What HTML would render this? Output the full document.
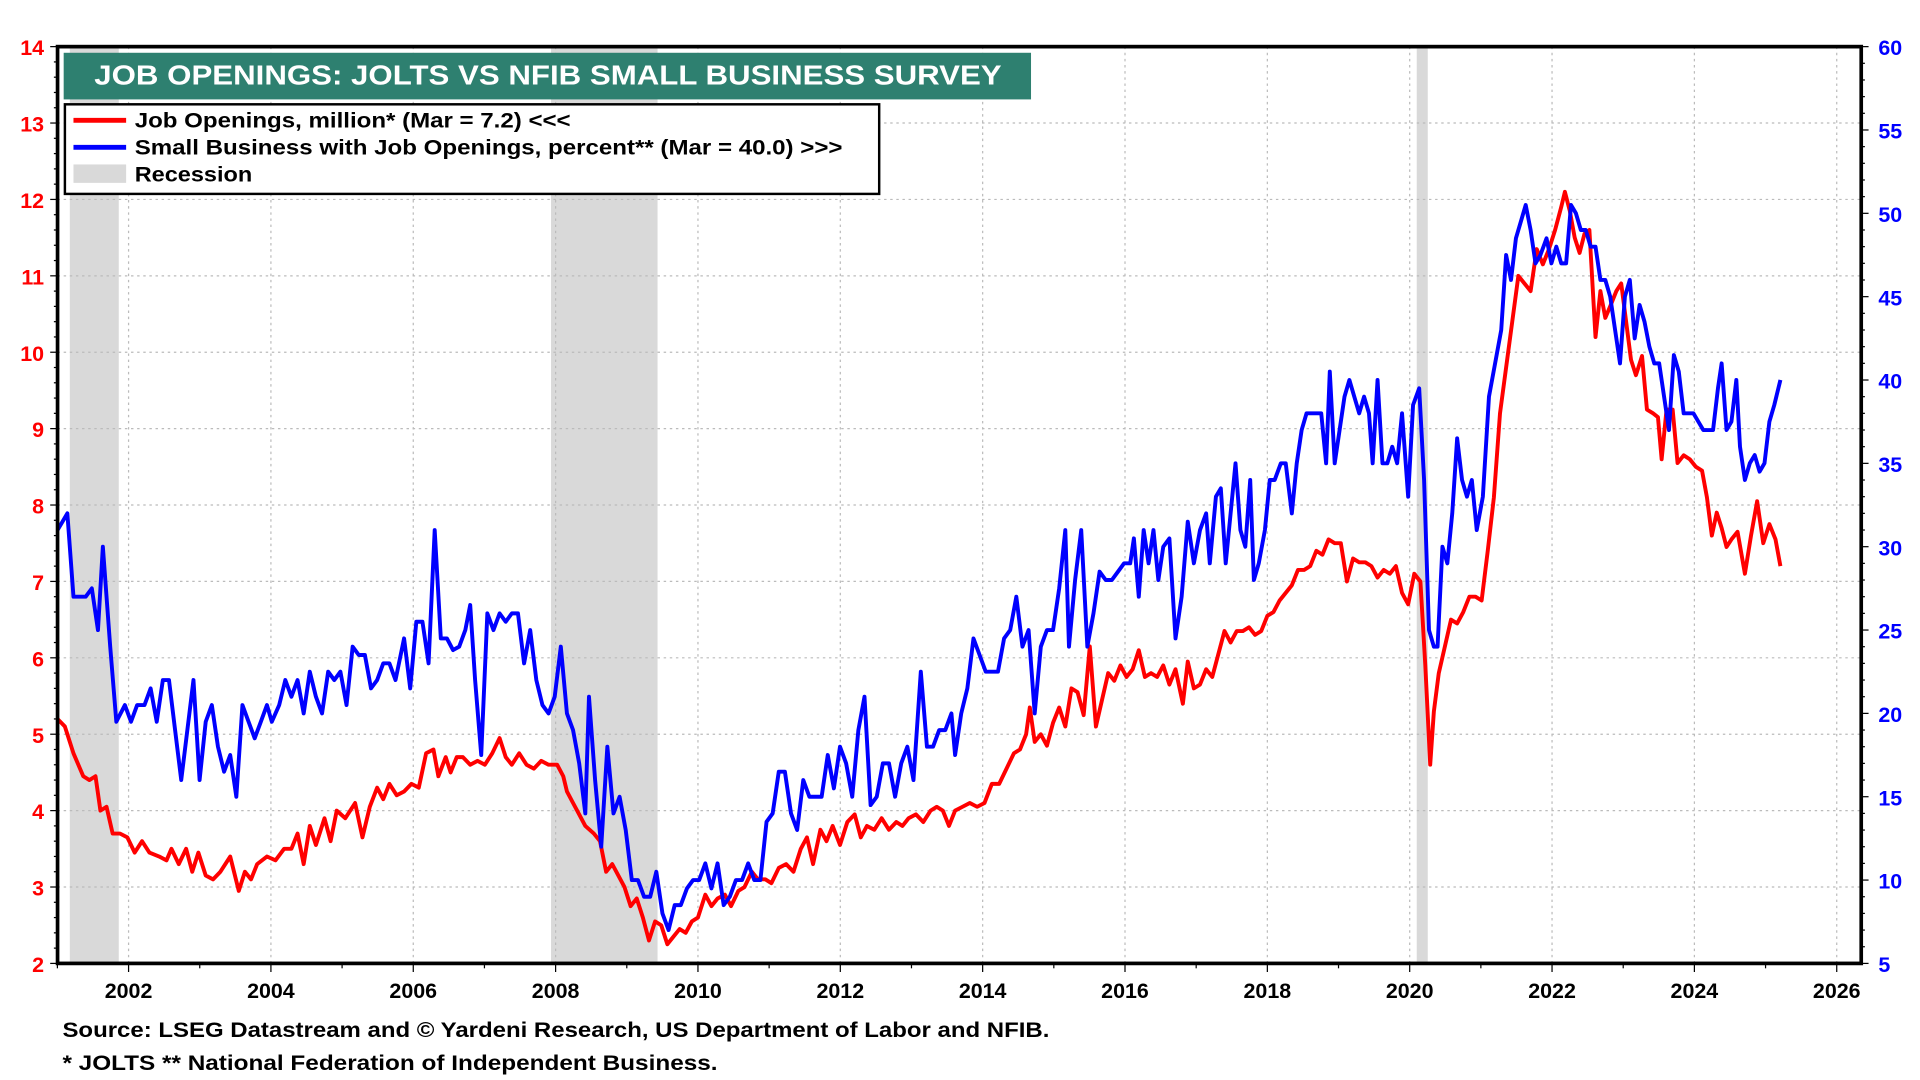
<!DOCTYPE html>
<html><head><meta charset="utf-8"><style>
html,body{margin:0;padding:0;background:#fff;overflow:hidden}
svg{display:block;width:1920px;height:1080px}
text{font-family:"Liberation Sans",Arial,sans-serif;font-weight:bold}
</style></head><body>
<svg id="s" viewBox="0 0 1568 880" preserveAspectRatio="none" xmlns="http://www.w3.org/2000/svg">
<rect x="57" y="38" width="40" height="747" fill="#d9d9d9"/>
<rect x="450" y="38" width="87" height="747" fill="#d9d9d9"/>
<rect x="1157" y="38" width="9" height="747" fill="#d9d9d9"/>
<g id="grid" stroke="#bbb" stroke-width="1" stroke-dasharray="2,3"></g>
<path id="red" fill="none" stroke="#ff0000" stroke-width="3.2" stroke-linejoin="round"/>
<path id="blue" fill="none" stroke="#0000ff" stroke-width="3.2" stroke-linejoin="round"/>
<rect x="47" y="38" width="1473" height="747" fill="none" stroke="#000" stroke-width="3"/>
<g id="ticks" stroke="#000" stroke-width="1"></g>
<g id="labels"></g>
<rect x="52" y="43" width="790" height="38" fill="#2e8070"/>
<text x="77" y="69" font-size="22.5" fill="#fff" textLength="741" lengthAdjust="spacingAndGlyphs">JOB OPENINGS: JOLTS VS NFIB SMALL BUSINESS SURVEY</text>
<rect x="53" y="85" width="665" height="73" fill="#fff" stroke="#000" stroke-width="2"/>
<line x1="60" y1="98" x2="103" y2="98" stroke="#ff0000" stroke-width="4"/>
<line x1="60" y1="120" x2="103" y2="120" stroke="#0000ff" stroke-width="4"/>
<rect x="60" y="134" width="43" height="15" fill="#d9d9d9"/>
<text x="110" y="104" font-size="17.5" textLength="356" lengthAdjust="spacingAndGlyphs">Job Openings, million* (Mar = 7.2) &lt;&lt;&lt;</text>
<text x="110" y="126" font-size="17.5" textLength="578" lengthAdjust="spacingAndGlyphs">Small Business with Job Openings, percent** (Mar = 40.0) &gt;&gt;&gt;</text>
<text x="110" y="148" font-size="17.5" textLength="96" lengthAdjust="spacingAndGlyphs">Recession</text>
<text x="51" y="845" font-size="17.5" textLength="806" lengthAdjust="spacingAndGlyphs">Source: LSEG Datastream and © Yardeni Research, US Department of Labor and NFIB.</text>
<text x="51" y="872" font-size="17.5" textLength="535" lengthAdjust="spacingAndGlyphs">* JOLTS  ** National Federation of Independent Business.</text>
</svg>
<script>
const L=47,R=1520,T=38,B=785;
const yl=v=>B-(v-2)*(B-T)/12, yr=v=>B-(v-5)*(B-T)/55, xy=y=>105+(y-2002)*58.125;
let g='',t='',lb='';
for(let v=2;v<=14;v++){const y=yl(v);if(v>2&&v<14)g+=`<line x1="${L}" x2="${R}" y1="${y}" y2="${y}"/>`;
lb+=`<text x="36" y="${y+7}" font-size="17.5" fill="#ff0000" text-anchor="end">${v}</text>`;t+=`<line x1="${L-6}" x2="${L}" y1="${y}" y2="${y}"/>`;
if(v<14){for(let k=1;k<5;k++){const yy=y-k*(B-T)/60;t+=`<line x1="${L-3}" x2="${L}" y1="${yy}" y2="${yy}"/>`;}}}
for(let v=5;v<=60;v+=5){const y=yr(v);lb+=`<text x="1534" y="${y+7}" font-size="17.5" fill="#0000ff">${v}</text>`;t+=`<line x1="${R}" x2="${R+6}" y1="${y}" y2="${y}"/>`;
if(v<60){for(let k=1;k<5;k++){const yy=y-k*(B-T)/55;t+=`<line x1="${R}" x2="${R+3}" y1="${yy}" y2="${yy}"/>`;}}}
for(let yr_=2002;yr_<=2026;yr_+=2){const x=xy(yr_);g+=`<line x1="${x}" x2="${x}" y1="${T}" y2="${B}"/>`;lb+=`<text x="${x}" y="813" font-size="17.5" text-anchor="middle">${yr_}</text>`;}
for(let y=2001;y<=2026;y++){const x=xy(y);t+=`<line x1="${x}" x2="${x}" y1="${B}" y2="${B+(y%2?4:7)}"/>`;}
document.getElementById('grid').innerHTML=g;document.getElementById('ticks').innerHTML=t;document.getElementById('labels').innerHTML=lb;
const red=[[47,5.2],[53,5.1],[60,4.75],[68,4.45],[73,4.4],[78,4.45],[82,4.0],[87,4.05],[92,3.7],[98,3.7],[104,3.65],[110,3.45],[116,3.6],[122,3.45],[130,3.4],[136,3.35],[140,3.5],[146,3.3],[152,3.5],[157,3.2],[162,3.45],[168,3.15],[174,3.1],[180,3.2],[188,3.4],[195,2.95],[200,3.2],[205,3.1],[210,3.3],[218,3.4],[225,3.35],[232,3.5],[238,3.5],[243,3.7],[248,3.3],[253,3.8],[258,3.55],[265,3.9],[270,3.6],[275,4.0],[282,3.9],[290,4.1],[296,3.65],[302,4.05],[308,4.3],[313,4.15],[318,4.35],[324,4.2],[330,4.25],[336,4.35],[342,4.3],[348,4.75],[354,4.8],[358,4.45],[364,4.7],[368,4.5],[373,4.7],[378,4.7],[384,4.6],[390,4.65],[396,4.6],[402,4.75],[408,4.95],[413,4.7],[418,4.6],[424,4.75],[430,4.6],[436,4.55],[442,4.65],[448,4.6],[455,4.6],[460,4.45],[463,4.25],[468,4.1],[473,3.95],[478,3.8],[485,3.7],[490,3.6],[495,3.2],[500,3.3],[505,3.15],[510,3.0],[515,2.75],[520,2.85],[525,2.6],[530,2.3],[535,2.55],[540,2.5],[545,2.25],[550,2.35],[555,2.45],[560,2.4],[565,2.55],[570,2.6],[576,2.9],[581,2.75],[586,2.85],[592,2.9],[597,2.75],[603,2.95],[608,3.0],[614,3.2],[619,3.1],[625,3.1],[630,3.05],[636,3.25],[642,3.3],[648,3.2],[654,3.5],[659,3.65],[664,3.3],[670,3.75],[675,3.6],[680,3.8],[686,3.55],[692,3.85],[698,3.95],[703,3.65],[708,3.8],[714,3.75],[720,3.9],[726,3.75],[732,3.85],[737,3.8],[742,3.9],[748,3.95],[754,3.85],[760,4.0],[765,4.05],[770,4.0],[775,3.8],[780,4.0],[786,4.05],[792,4.1],[798,4.05],[804,4.1],[810,4.35],[816,4.35],[822,4.55],[828,4.75],[833,4.8],[838,5.0],[841,5.35],[845,4.9],[850,5.0],[855,4.85],[860,5.15],[865,5.35],[870,5.1],[875,5.6],[880,5.55],[885,5.25],[890,6.15],[895,5.1],[900,5.45],[905,5.8],[910,5.7],[915,5.9],[920,5.75],[925,5.85],[930,6.1],[935,5.75],[940,5.8],[945,5.75],[950,5.9],[955,5.65],[960,5.85],[966,5.4],[970,5.95],[975,5.6],[980,5.65],[985,5.85],[990,5.75],[995,6.05],[1000,6.35],[1005,6.2],[1010,6.35],[1015,6.35],[1020,6.4],[1025,6.3],[1030,6.35],[1035,6.55],[1040,6.6],[1045,6.75],[1050,6.85],[1055,6.95],[1060,7.15],[1065,7.15],[1070,7.2],[1075,7.4],[1080,7.35],[1085,7.55],[1090,7.5],[1095,7.5],[1100,7.0],[1105,7.3],[1110,7.25],[1115,7.25],[1120,7.2],[1125,7.05],[1130,7.15],[1135,7.1],[1140,7.2],[1145,6.85],[1150,6.7],[1155,7.1],[1160,7.0],[1164,5.9],[1168,4.6],[1171,5.3],[1175,5.8],[1180,6.15],[1185,6.5],[1190,6.45],[1195,6.6],[1200,6.8],[1205,6.8],[1210,6.75],[1215,7.4],[1220,8.1],[1225,9.2],[1230,9.8],[1235,10.4],[1240,11.0],[1245,10.9],[1250,10.8],[1255,11.35],[1260,11.15],[1265,11.35],[1270,11.6],[1275,11.9],[1278,12.1],[1282,11.85],[1286,11.5],[1290,11.3],[1294,11.55],[1298,11.6],[1303,10.2],[1307,10.8],[1311,10.45],[1315,10.6],[1320,10.8],[1324,10.9],[1328,10.4],[1332,9.9],[1336,9.7],[1341,9.95],[1345,9.25],[1350,9.2],[1354,9.15],[1357,8.6],[1361,9.25],[1366,9.25],[1370,8.55],[1375,8.65],[1380,8.6],[1385,8.5],[1390,8.45],[1394,8.1],[1398,7.6],[1402,7.9],[1406,7.7],[1410,7.45],[1414,7.55],[1419,7.65],[1425,7.1],[1430,7.6],[1435,8.05],[1440,7.5],[1445,7.75],[1450,7.55],[1454,7.2]];
const blue=[[47,31],[51,31.5],[55,32],[60,27],[70,27],[75,27.5],[80,25],[84,30],[90,24],[95,19.5],[102,20.5],[107,19.5],[112,20.5],[118,20.5],[123,21.5],[128,19.5],[133,22],[138,22],[143,19],[148,16],[153,19],[158,22],[163,16],[168,19.5],[173,20.5],[178,18],[183,16.5],[188,17.5],[193,15],[198,20.5],[203,19.5],[208,18.5],[213,19.5],[218,20.5],[222,19.5],[228,20.5],[233,22],[238,21],[243,22],[248,20],[253,22.5],[258,21],[263,20],[268,22.5],[273,22],[278,22.5],[283,20.5],[288,24],[293,23.5],[298,23.5],[303,21.5],[308,22],[313,23],[318,23],[323,22],[330,24.5],[335,21.5],[340,25.5],[345,25.5],[350,23],[355,31],[360,24.5],[365,24.5],[370,23.8],[375,24],[380,25],[384,26.5],[388,22],[393,17.5],[398,26],[403,25],[408,26],[413,25.5],[418,26],[423,26],[428,23],[433,25],[438,22],[443,20.5],[448,20],[453,21],[458,24],[463,20],[468,19],[473,17],[478,14],[481,21],[486,16],[491,12],[496,18],[501,14],[506,15],[511,13],[516,10],[521,10],[526,9],[531,9],[536,10.5],[541,8],[546,7],[551,8.5],[556,8.5],[561,9.5],[566,10],[571,10],[576,11],[581,9.5],[586,11],[591,8.5],[596,9],[601,10],[606,10],[611,11],[616,10],[621,10],[626,13.5],[631,14],[636,16.5],[641,16.5],[646,14],[651,13],[656,16],[661,15],[666,15],[671,15],[676,17.5],[681,15.5],[686,18],[691,17],[696,15],[701,19],[706,21],[711,14.5],[716,15],[721,17],[726,17],[731,15],[736,17],[741,18],[746,16],[752,22.5],[757,18],[762,18],[767,19],[772,19],[777,20],[780,17.5],[785,20],[790,21.5],[795,24.5],[800,23.5],[805,22.5],[810,22.5],[815,22.5],[820,24.5],[825,25],[830,27],[835,24],[840,25],[845,20],[850,24],[855,25],[860,25],[865,27.5],[870,31],[873,24],[878,28],[883,31],[888,24],[893,26],[898,28.5],[903,28],[908,28],[913,28.5],[918,29],[923,29],[926,30.5],[930,27],[934,31],[938,29],[942,31],[946,28],[950,30],[955,30.5],[960,24.5],[965,27],[970,31.5],[975,29],[980,31],[985,32],[988,29],[993,33],[997,33.5],[1001,29],[1005,32],[1009,35],[1013,31],[1017,30],[1021,34],[1024,28],[1028,29],[1033,31],[1037,34],[1041,34],[1046,35],[1050,35],[1055,32],[1059,35],[1063,37],[1067,38],[1071,38],[1075,38],[1079,38],[1083,35],[1086,40.5],[1090,35],[1094,37],[1098,39],[1102,40],[1106,39],[1110,38],[1114,39],[1118,38],[1121,35],[1125,40],[1129,35],[1133,35],[1137,36],[1141,35],[1145,38],[1150,33],[1154,38.5],[1159,39.5],[1163,34],[1167,25],[1171,24],[1174,24],[1178,30],[1182,29],[1186,32],[1190,36.5],[1194,34],[1198,33],[1202,34],[1206,31],[1211,33],[1216,39],[1221,41],[1226,43],[1230,47.5],[1234,46],[1238,48.5],[1242,49.5],[1246,50.5],[1250,49],[1254,47],[1258,47.5],[1263,48.5],[1267,47],[1271,48],[1275,47],[1279,47],[1283,50.5],[1287,50],[1291,49],[1295,49],[1299,48],[1303,48],[1307,46],[1311,46],[1315,45],[1319,43],[1323,41],[1327,45],[1331,46],[1335,42.5],[1339,44.5],[1343,43.5],[1347,42],[1351,41],[1355,41],[1359,39],[1363,37],[1367,41.5],[1371,40.5],[1375,38],[1379,38],[1383,38],[1387,37.5],[1391,37],[1395,37],[1399,37],[1403,39.5],[1406,41],[1410,37],[1414,37.5],[1418,40],[1421,36],[1425,34],[1429,35],[1433,35.5],[1437,34.5],[1441,35],[1445,37.5],[1449,38.5],[1454,40]];
document.getElementById('red').setAttribute('d','M'+red.map(p=>p[0]+','+yl(p[1]).toFixed(1)).join('L'));
document.getElementById('blue').setAttribute('d','M'+blue.map(p=>p[0]+','+yr(p[1]).toFixed(1)).join('L'));
</script>
</body></html>
